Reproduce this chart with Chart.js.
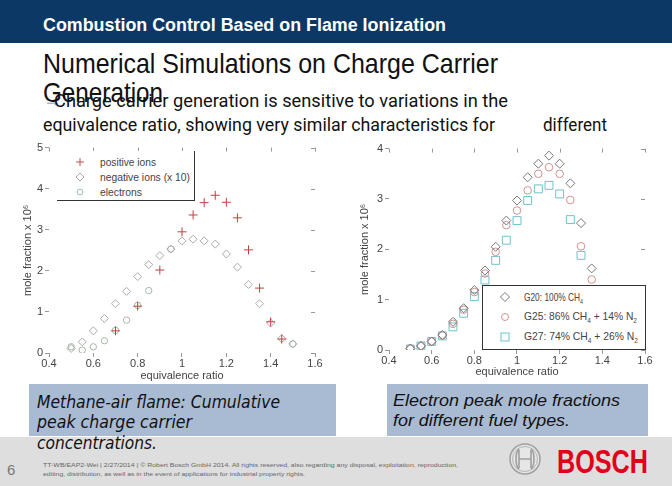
<!DOCTYPE html>
<html>
<head>
<meta charset="utf-8">
<script src="https://cdn.jsdelivr.net/npm/chart.js@4.4.1/dist/chart.umd.min.js"></script>
<style>
  body { margin: 0; width: 672px; height: 486px; overflow: hidden; background: #fff; position: relative; font-family: Roboto, "Liberation Sans", sans-serif; }
  .abs { position: absolute; white-space: nowrap; line-height: 1; }
  [data-w] { display: inline-block; transform-origin: 0 0; }
  #hdr { left: 0; top: 0; width: 672px; height: 43px; background: #0c3866; }
  .cap { background: #a9bbd3; }
  .leg { background: #fff; font-family: "Liberation Sans", Arial, sans-serif; font-size: 11px; color: #444; }
  .leg .row { position: absolute; white-space: nowrap; line-height: 1; }
  .leg svg { position: absolute; }
  sub { font-size: 7px; vertical-align: -3px; }
  canvas { position: absolute; }
</style>
</head>
<body>

<div id="hdr" class="abs"></div>
<div class="abs" style="left:43px;top:15px;font:bold 18px 'Liberation Sans Narrow','Liberation Sans',sans-serif;color:#fff"><span data-w="403">Combustion Control Based on Flame Ionization</span></div>

<div class="abs" style="left:43px;top:48px;font:28px 'Liberation Sans',Arial,sans-serif;color:#111"><span data-w="455">Numerical Simulations on Charge Carrier</span></div>
<div class="abs" style="left:43px;top:77px;font:28px 'Liberation Sans',Arial,sans-serif;color:#111"><span data-w="120">Generation</span></div>
<div class="abs" style="left:43px;top:91px;font-size:18px;color:#5a7fae">→</div>
<div class="abs" style="left:54px;top:91px;font-size:19px;color:#111"><span data-w="454">Charge carrier generation is sensitive to variations in the</span></div>
<div class="abs" style="left:43px;top:115px;font-size:19px;color:#111"><span data-w="452">equivalence ratio, showing very similar characteristics for</span></div>
<div class="abs" style="left:543px;top:115px;font-size:19px;color:#111"><span data-w="64">different</span></div>

<canvas id="left" width="340" height="245" style="left:0;top:139px"></canvas>
<canvas id="right" width="332" height="245" style="left:340px;top:140px"></canvas>

<!-- left legend -->
<div class="abs leg" style="left:57px;top:151px;width:137px;height:49px;border-right:1px solid #333;border-bottom:1px solid #333">
  <svg width="10" height="10" style="left:18px;top:6px"><path d="M5 1V9M1 5H9" stroke="#c05050" stroke-width="1" fill="none"/></svg>
  <svg width="10" height="10" style="left:18px;top:21px"><path d="M5 1L9 5L5 9L1 5Z" stroke="#aaa" fill="none"/></svg>
  <svg width="10" height="10" style="left:18px;top:36px"><circle cx="5" cy="5" r="3" stroke="#a3b8a3" fill="none"/></svg>
  <div class="row" style="left:43px;top:6px"><span data-w="56">positive ions</span></div>
  <div class="row" style="left:43px;top:21px"><span data-w="90">negative ions (x 10)</span></div>
  <div class="row" style="left:43px;top:36px"><span data-w="42">electrons</span></div>
</div>

<!-- right legend -->
<div class="abs leg" style="left:482px;top:285px;width:162px;height:63px;border:1px solid #333">
  <svg width="12" height="12" style="left:16px;top:5px"><path d="M6 1.5L10.5 6L6 10.5L1.5 6Z" stroke="#777" fill="none"/></svg>
  <svg width="12" height="12" style="left:16px;top:25px"><circle cx="6" cy="6" r="3.5" stroke="#d49090" fill="none"/></svg>
  <svg width="12" height="12" style="left:16px;top:45px"><rect x="2" y="2" width="8" height="8" stroke="#6cc3cc" fill="none"/></svg>
  <div class="row" style="left:41px;top:6px"><span data-w="59">G20: 100% CH<sub>4</sub></span></div>
  <div class="row" style="left:41px;top:25px"><span data-w="113">G25: 86% CH<sub>4</sub> + 14% N<sub>2</sub></span></div>
  <div class="row" style="left:41px;top:45px"><span data-w="114">G27: 74% CH<sub>4</sub> + 26% N<sub>2</sub></span></div>
</div>

<!-- footer -->
<div class="abs" style="left:0;top:437px;width:672px;height:49px;background:#dedede"></div>
<div class="abs" style="left:7px;top:461px;font:15px 'Liberation Sans Narrow','Liberation Sans',sans-serif;color:#777">6</div>
<div class="abs" style="left:43px;top:462px;font:6px 'Liberation Sans',sans-serif;color:#666"><span data-w="415">TT-WB/EAP2-Wei | 2/27/2014 | © Robert Bosch GmbH 2014. All rights reserved, also regarding any disposal, exploitation, reproduction,</span></div>
<div class="abs" style="left:43px;top:471px;font:6px 'Liberation Sans',sans-serif;color:#666"><span data-w="262">editing, distribution, as well as in the event of applications for industrial property rights.</span></div>
<svg class="abs" width="34" height="34" style="left:508px;top:442px">
  <circle cx="17" cy="17" r="15" fill="#e6e6e6" stroke="#a0a0a0" stroke-width="1.5"/>
  <circle cx="17" cy="17" r="12.5" fill="none" stroke="#b5b5b5" stroke-width="1"/>
  <path d="M11 6.5C7 11 7 23 11 27.5M23 6.5C27 11 27 23 23 27.5M11 17H23M11 8V26M23 8V26" stroke="#a0a0a0" stroke-width="1.6" fill="none"/>
</svg>
<div class="abs" style="left:557px;top:442px;font:bold 34px 'Liberation Sans',Arial,sans-serif;color:#e2001a"><span data-w="91">BOSCH</span></div>

<!-- captions -->
<div class="abs cap" style="left:29px;top:384px;width:307px;height:52px"></div>
<div class="abs cap" style="left:387px;top:384px;width:261px;height:52px"></div>
<div class="abs" style="left:37px;top:392px;font:italic 17px 'DejaVu Sans',sans-serif;color:#111"><span data-w="243">Methane-air flame: Cumulative</span></div>
<div class="abs" style="left:37px;top:412px;font:italic 17px 'DejaVu Sans',sans-serif;color:#111"><span data-w="155">peak charge carrier</span></div>
<div class="abs" style="left:37px;top:433px;font:italic 17px 'DejaVu Sans',sans-serif;color:#111"><span data-w="120">concentrations.</span></div>
<div class="abs" style="left:393px;top:391px;font:italic 17px 'Liberation Sans',Arial,sans-serif;color:#111"><span data-w="227">Electron peak mole fractions</span></div>
<div class="abs" style="left:393px;top:411px;font:italic 17px 'Liberation Sans',Arial,sans-serif;color:#111"><span data-w="177">for different fuel types.</span></div>

<script>
// left chart: methane-air flame, peak charge carrier mole fractions (x 1e6)
const phiLeft = [0.5, 0.55, 0.6, 0.65, 0.7, 0.75, 0.8, 0.85, 0.9, 0.95, 1.0, 1.05, 1.1, 1.15, 1.2, 1.25, 1.3, 1.35, 1.4, 1.45, 1.5];
const positiveIons = [null, null, null, null, 0.54, null, 1.14, null, 2.02, null, 2.95, 3.36, 3.66, 3.84, 3.67, 3.29, 2.51, 1.58, 0.76, 0.34, null];
const negativeIonsX10 = [0.11, 0.27, 0.54, 0.84, 1.20, 1.50, 1.86, 2.15, 2.37, 2.53, 2.73, 2.77, 2.73, 2.65, 2.41, 2.09, 1.67, 1.20, 0.73, 0.35, 0.22];
const electrons = [0.15, 0.07, 0.15, 0.30, 0.55, 0.80, 1.16, 1.52, null, 2.53, null, null, null, null, null, null, null, null, null, null, 0.22];

// right chart: electron peak mole fractions for fuel types (x 1e6)
const phiRight = [0.5, 0.55, 0.6, 0.65, 0.7, 0.75, 0.8, 0.85, 0.9, 0.95, 1.0, 1.05, 1.1, 1.15, 1.2, 1.25, 1.3, 1.35];
const g20 = [0.03, 0.08, 0.17, 0.30, 0.56, 0.83, 1.19, 1.58, 2.05, 2.57, 2.97, 3.43, 3.70, 3.86, 3.70, 3.31, 2.52, 1.62];
const g25 = [0.03, 0.08, 0.17, 0.29, 0.52, 0.80, 1.15, 1.52, 1.95, 2.48, 2.77, 3.17, 3.50, 3.63, 3.50, 2.98, 2.06, 1.40];
const g27 = [0.02, 0.08, 0.17, 0.28, 0.46, 0.73, 1.06, 1.39, 1.78, 2.18, 2.57, 2.97, 3.20, 3.27, 3.10, 2.59, 1.88, null];

const xTickValues = [0.4, 0.6, 0.8, 1.0, 1.2, 1.4, 1.6];
const xTickLabels = ['0.4', '0.6', '0.8', '1', '1.2', '1.4', '1.6'];
const yTicksLeft = [0, 1, 2, 3, 4, 5];
const yTicksRight = [0, 1, 2, 3, 4];

const axisFont = { family: "'Liberation Sans', Arial, sans-serif", size: 11 };
const axisColor = '#444';

function pts(xs, ys) {
  return xs.map((x, i) => ({ x: x, y: ys[i] })).filter(p => p.y !== null);
}

// small inward ticks on top and right edges, like the matlab box
const innerTicks = {
  id: 'innerTicks',
  afterDatasetsDraw(chart) {
    const { ctx, chartArea: a, scales: { x, y } } = chart;
    ctx.save();
    ctx.strokeStyle = '#999';
    ctx.lineWidth = 1;
    ctx.beginPath();
    x.ticks.forEach(t => {
      const px = Math.round(x.getPixelForValue(t.value)) + 0.5;
      ctx.moveTo(px, a.top); ctx.lineTo(px, a.top + 4);
    });
    y.ticks.forEach(t => {
      const py = Math.round(y.getPixelForValue(t.value)) + 0.5;
      ctx.moveTo(a.right, py); ctx.lineTo(a.right - 4, py);
    });
    ctx.stroke();
    ctx.restore();
  }
};

function makeChart(id, datasets, yMax, yTicks, pad, yWidth, titleBottomPad) {
  return new Chart(document.getElementById(id).getContext('2d'), {
    type: 'scatter',
    data: { datasets: datasets },
    options: {
      responsive: false,
      animation: false,
      events: [],
      layout: { padding: pad },
      plugins: { legend: { display: false }, tooltip: { enabled: false } },
      scales: {
        x: {
          type: 'linear', min: 0.4, max: 1.6,
          afterBuildTicks: s => { s.ticks = xTickValues.map(v => ({ value: v })); },
          ticks: { font: axisFont, color: axisColor, padding: 0, maxRotation: 0, autoSkip: false,
                   callback: (v, i) => xTickLabels[i] },
          grid: { drawOnChartArea: false, tickLength: 4, color: '#999' },
          border: { display: false },
          title: { display: true, text: 'equivalence ratio', font: axisFont, color: axisColor, padding: { top: 0, bottom: titleBottomPad } },
          afterFit: s => { s.height = 30; }
        },
        y: {
          min: 0, max: yMax,
          afterBuildTicks: s => { s.ticks = yTicks.map(v => ({ value: v })); },
          ticks: { font: axisFont, color: axisColor, padding: 2 },
          grid: { drawOnChartArea: false, tickLength: 4, color: '#999' },
          border: { display: false },
          title: { display: true, text: 'mole fraction x 10⁶', font: axisFont, color: axisColor, padding: { top: 4, bottom: 0 } },
          afterFit: s => { s.width = yWidth; }
        }
      }
    },
    plugins: [innerTicks]
  });
}

function init() {
  document.querySelectorAll('[data-w]').forEach(el => {
    el.style.transform = 'none';
    const w = el.getBoundingClientRect().width;
    el.style.transform = 'scaleX(' + (+el.dataset.w / w) + ')';
  });

  makeChart('left', [
    { label: 'positive ions', data: pts(phiLeft, positiveIons), pointStyle: 'cross', pointRadius: 4.5,
      borderColor: '#c04040', backgroundColor: 'transparent', pointBorderWidth: 1 },
    { label: 'negative ions (x 10)', data: pts(phiLeft, negativeIonsX10), pointStyle: 'rectRot', pointRadius: 4,
      borderColor: '#aaaaaa', backgroundColor: 'transparent', pointBorderWidth: 1 },
    { label: 'electrons', data: pts(phiLeft, electrons), pointStyle: 'circle', pointRadius: 3.2,
      borderColor: '#a3b8a3', backgroundColor: 'transparent', pointBorderWidth: 1 }
  ], 5, yTicksLeft, { left: 17, right: 25, top: 7, bottom: 1 }, 32, 0);

  makeChart('right', [
    { label: 'G20', data: pts(phiRight, g20), pointStyle: 'rectRot', pointRadius: 4.5,
      borderColor: '#777777', backgroundColor: 'transparent', pointBorderWidth: 1 },
    { label: 'G25', data: pts(phiRight, g25), pointStyle: 'circle', pointRadius: 3.8,
      borderColor: '#d49090', backgroundColor: 'transparent', pointBorderWidth: 1 },
    { label: 'G27', data: pts(phiRight, g27), pointStyle: 'rect', pointRadius: 5.6,
      borderColor: '#6cc3cc', backgroundColor: 'transparent', pointBorderWidth: 1 }
  ], 4, yTicksRight, { left: 14, right: 27, top: 8, bottom: 5 }, 35, 1);
}

document.fonts.ready.then(init);
</script>
</body>
</html>
